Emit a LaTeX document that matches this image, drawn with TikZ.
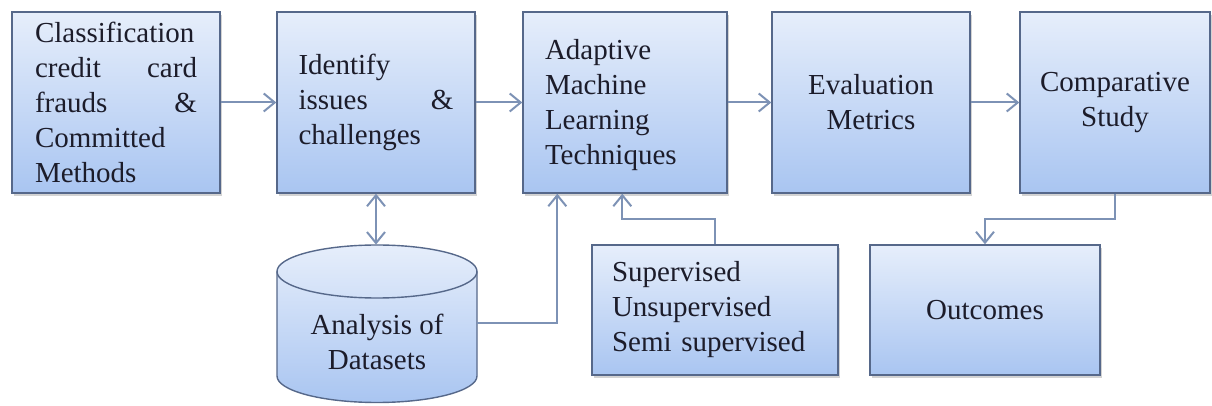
\documentclass[tikz,border=0pt]{standalone}
\usepackage{fontspec}
\setmainfont{Liberation Serif}
\usetikzlibrary{arrows.meta,shadows}

\definecolor{boxtop}{HTML}{E6EEFB}
\definecolor{boxbot}{HTML}{A9C5F1}
\definecolor{boxline}{HTML}{56688A}
\definecolor{arrline}{HTML}{7D92B5}
\definecolor{txt}{HTML}{1C1C2A}

\begin{document}
\begin{tikzpicture}[x=0.5pt, y=-0.5pt,
        >={Straight Barb[length=5.5pt, width=9pt]},
        stage/.style={draw=boxline, line width=0.7pt, top color=boxtop, bottom color=boxbot,
            drop shadow={shadow xshift=1pt, shadow yshift=-1.5pt, opacity=0.35},
            font=\fontsize{14.5}{17.5}\selectfont, text=txt, inner sep=0pt},
        arr/.style={draw=arrline, line width=1pt, ->}]

        \useasboundingbox (0,0) rectangle (1212,406);

        % Classification
        \node[stage, minimum width=104pt, minimum height=90.5pt, text width=81pt, align=left] (clas) at (116,102.5)
            {Classification\\ credit\hfill card\\ frauds\hfill \&\\ Committed\\ Methods};

        % Issues
        \node[stage, minimum width=99pt, minimum height=90.5pt, text width=77.5pt, align=left] (ident) at (376,102.5)
            {Identify\\ issues\hfill \&\\ challenges};

        % Techniques
        \node[stage, minimum width=102pt, minimum height=90.5pt, text width=80pt, align=left] (adapt) at (625,102.5)
            {\rule{0pt}{13pt}Adaptive\\ Machine\\ Learning\\ Techniques};

        % Metrics
        \node[stage, minimum width=99pt, minimum height=90.5pt, align=center] (eval) at (871,102.5)
            {Evaluation\\ Metrics};

        % Study
        \node[stage, minimum width=95pt, minimum height=90.5pt, align=center] (comp) at (1115,102.5)
            {Comparative\\ Study};

        % Datasets (cylinder)
        \path[top color=boxtop, bottom color=boxbot] (277,271.5) -- (277,376)
            arc[start angle=180, end angle=360, x radius=50pt, y radius=13.25pt] -- (477,271.5)
            arc[start angle=0, end angle=180, x radius=50pt, y radius=13.25pt] -- cycle;
        \draw[boxline, line width=0.7pt] (277,271.5) -- (277,376)
            arc[start angle=180, end angle=360, x radius=50pt, y radius=13.25pt] -- (477,271.5);
        \draw[boxline, line width=0.7pt] (377,271.5) ellipse[x radius=50pt, y radius=13.25pt];
        \node[minimum width=100pt, minimum height=78.5pt, inner sep=0pt, align=center,
            font=\fontsize{14.5}{17.5}\selectfont, text=txt] (data) at (377,323.5)
            {\rule{0pt}{28.5pt}Analysis of\\ Datasets};

        % Methods
        \node[stage, minimum width=123pt, minimum height=65pt, text width=103pt, align=left] (meth) at (715,310)
            {Supervised\\ Unsupervised\\ Semi supervised};

        % Outcomes
        \node[stage, minimum width=115pt, minimum height=65pt] (outc) at (985,310) {Outcomes};

        % Flechas
        \draw[arr] (clas.east) -- (ident.west);
        \draw[arr] (ident.east) -- (adapt.west);
        \draw[arr] (adapt.east) -- (eval.west);
        \draw[arr] (eval.east) -- (comp.west);
        \draw[arr, <->] (ident.south) -- (ident.south |- data.north);
        \draw[arr] (data.east) -| ([xshift=17.5pt]adapt.south west);
        \draw[arr] (meth.north) -- ++(0,-25) -| ([xshift=50pt]adapt.south west);
        \draw[arr] (comp.south) -- ++(0,25) -| (outc.north);

    \end{tikzpicture}
\end{document}
